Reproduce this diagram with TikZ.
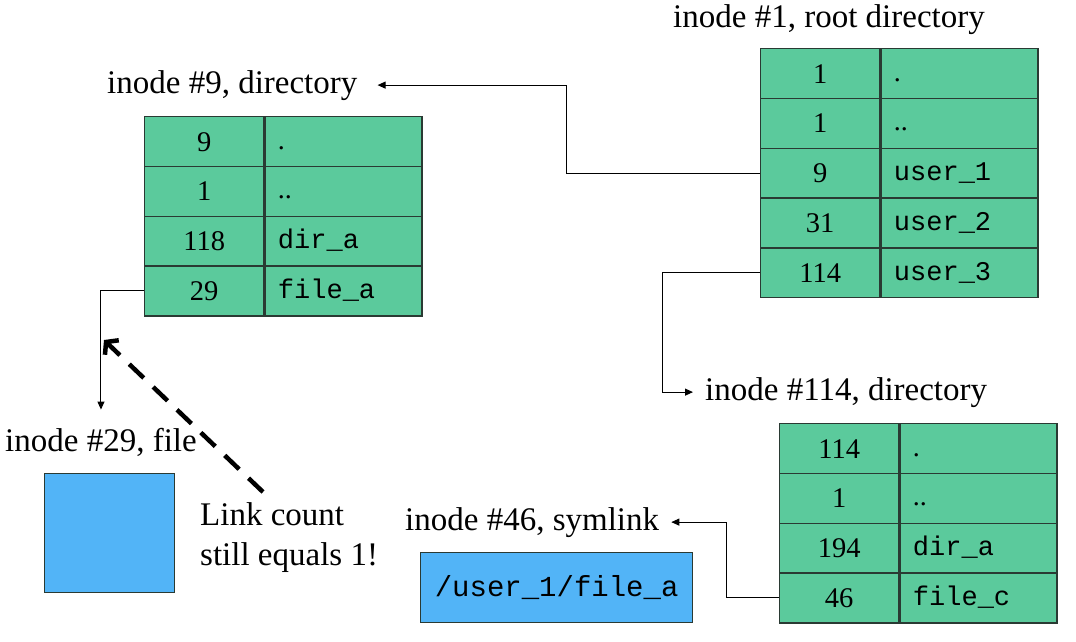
\documentclass[tikz,border=0pt]{standalone}
\usepackage{fontspec}
\setmainfont{Liberation Serif}
\setmonofont{Liberation Mono}
\usetikzlibrary{arrows.meta}
\definecolor{cellgreen}{HTML}{5BCA9C}
\definecolor{boxblue}{HTML}{52B4F7}
\definecolor{edgegray}{HTML}{2A3A33}
\newcommand\dirrow[6]{%
  \node[numcell] (#1n#2) at (#3,#4) {#5};
  \node[namecell] (#1e#2) at (#1n#2.north east) {#6};}
\newcommand\dotname[1]{{\rmfamily\fontsize{28}{30}\selectfont #1}}
\begin{document}
\begin{tikzpicture}[x=1pt,y=-1pt,
  numcell/.style={draw=edgegray,line width=1.3pt,fill=cellgreen,minimum width=119pt,
    minimum height=49.8pt,inner sep=0pt,anchor=north west,
    font=\fontsize{28.5}{30}\selectfont,text height=19pt,text depth=0pt},
  namecell/.style={draw=edgegray,line width=1.3pt,fill=cellgreen,text width=131pt,
    inner xsep=13pt,inner ysep=0pt,minimum height=49.8pt,anchor=north west,align=left,
    font=\fontsize{27}{30}\ttfamily,text height=17pt,text depth=2pt},
  lbl/.style={anchor=base west,inner sep=0pt,font=\fontsize{33}{38}\selectfont},
  link/.style={line width=1pt,-{Triangle[length=8pt,width=7pt]}},
  bluebox/.style={draw=edgegray,line width=1.3pt,fill=boxblue,anchor=north west,inner sep=0pt},
]
\useasboundingbox (0,0) rectangle (1076,642);

% root directory, inode #1
\node[lbl] (l1) at (673,28) {inode \#1, root directory};
\dirrow{r}{1}{760}{48}{1}{\dotname{.}}
\dirrow{r}{2}{760}{97.8}{1}{\dotname{..}}
\dirrow{r}{3}{760}{147.6}{9}{user\_1}
\dirrow{r}{4}{760}{197.4}{31}{user\_2}
\dirrow{r}{5}{760}{247.2}{114}{user\_3}

% inode #9
\node[lbl] (l9) at (107,93) {inode \#9, directory};
\dirrow{a}{1}{144}{116}{9}{\dotname{.}}
\dirrow{a}{2}{144}{165.8}{1}{\dotname{..}}
\dirrow{a}{3}{144}{215.6}{118}{dir\_a}
\dirrow{a}{4}{144}{265.4}{29}{file\_a}

% inode #114
\node[lbl] (l114) at (705,400) {inode \#114, directory};
\dirrow{b}{1}{779}{423}{114}{\dotname{.}}
\dirrow{b}{2}{779}{472.8}{1}{\dotname{..}}
\dirrow{b}{3}{779}{522.6}{194}{dir\_a}
\dirrow{b}{4}{779}{572.4}{46}{file\_c}

% inode #29 file
\node[lbl] (l29) at (5,451) {inode \#29, file};
\node[bluebox,minimum width=130pt,minimum height=119pt] (f29) at (44,473) {};

% inode #46 symlink
\node[lbl] (l46) at (405,530) {inode \#46, symlink};
\node[bluebox,minimum width=272pt,minimum height=70pt,font=\fontsize{29}{32}\ttfamily] (s46) at (420,552) {/user\_1/file\_a};

% note
\node[lbl] (n1) at (200,525) {Link count};
\node[lbl] (n2) at (200,565) {still equals 1!};

% connectors
\draw[link] (rn3.west) -- ++(-194,0) |- ([xshift=20pt]l9.east);
\draw[link] (rn5.west) -- ++(-98,0) |- ([xshift=-12pt]l114.west);
\draw[link] (bn4.west) -- ++(-53,0) |- ([xshift=12pt]l46.east);
\draw[link] (an4.west) -| ([yshift=18pt]l29.north);

\coordinate (dstart) at (263,492);
\coordinate (dend) at (104,340);
\draw[line width=4.5pt,dash pattern=on 20pt off 13pt,-{Straight Barb[length=8pt,width=20pt]}] (dstart) -- (dend);
\end{tikzpicture}
\end{document}
